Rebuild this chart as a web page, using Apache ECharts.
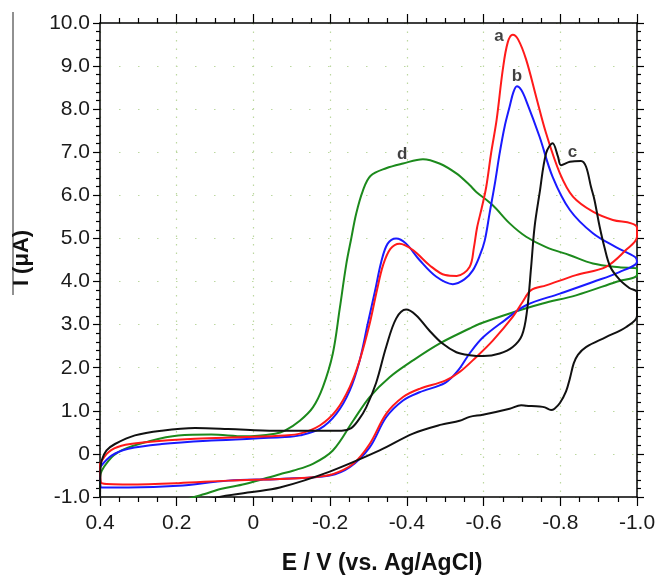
<!DOCTYPE html>
<html>
<head>
<meta charset="utf-8">
<title>CV curves</title>
<script src="https://cdn.jsdelivr.net/npm/echarts@6/dist/echarts.min.js"></script>
<style>
  html, body { margin: 0; padding: 0; background: #fff; }
  #chart { width: 659px; height: 579px; }
</style>
</head>
<body>
<div id="chart"></div>
<script>
// potential (V) / current (uA) pairs, read along each loop
var curveA = [
  [0.40, -0.23], [0.378, 0.04], [0.344, 0.19], [0.282, 0.27], [0.152, 0.35], [0.022, 0.39],
  [-0.082, 0.43], [-0.121, 0.47], [-0.173, 0.66], [-0.216, 1.01], [-0.251, 1.55], [-0.277, 2.17],
  [-0.303, 3.02], [-0.322, 3.80], [-0.338, 4.38], [-0.357, 4.76], [-0.381, 4.88], [-0.416, 4.73],
  [-0.459, 4.38], [-0.500, 4.15], [-0.530, 4.13], [-0.5635, 4.34], [-0.575, 4.8], [-0.583, 5.25],
  [-0.595, 5.7], [-0.607, 6.2], [-0.620, 7.0], [-0.634, 7.75], [-0.650, 8.91], [-0.663, 9.55],
  [-0.676, 9.73], [-0.690, 9.62], [-0.711, 9.15], [-0.737, 8.29], [-0.763, 7.44], [-0.799, 6.51],
  [-0.833, 5.97], [-0.885, 5.62], [-0.937, 5.43], [-0.985, 5.35], [-1.0, 5.25], [-1.0, 5.04],
  [-0.971, 4.73], [-0.919, 4.34], [-0.841, 4.15], [-0.763, 3.91], [-0.724, 3.80], [-0.702, 3.53],
  [-0.676, 3.18], [-0.624, 2.63], [-0.581, 2.25], [-0.5375, 1.90], [-0.500, 1.70], [-0.433, 1.51],
  [-0.390, 1.32], [-0.346, 0.93], [-0.303, 0.23], [-0.260, -0.23], [-0.207, -0.47], [-0.155, -0.54],
  [-0.069, -0.58], [0.066, -0.62], [0.196, -0.68], [0.326, -0.71], [0.396, -0.68], [0.40, -0.23]
];
var curveB = [
  [0.40, -0.31], [0.370, -0.04], [0.326, 0.12], [0.239, 0.23], [0.110, 0.31], [-0.082, 0.39],
  [-0.121, 0.43], [-0.173, 0.58], [-0.216, 0.93], [-0.251, 1.47], [-0.277, 2.17], [-0.298, 3.02],
  [-0.318, 3.82], [-0.333, 4.45], [-0.350, 4.88], [-0.372, 5.00], [-0.398, 4.88], [-0.433, 4.50],
  [-0.477, 4.11], [-0.520, 3.94], [-0.550, 4.05], [-0.572, 4.26], [-0.590, 4.6], [-0.603, 4.95],
  [-0.616, 5.6], [-0.630, 6.3], [-0.642, 6.98], [-0.655, 7.6], [-0.668, 8.06], [-0.678, 8.4],
  [-0.687, 8.53], [-0.698, 8.45], [-0.711, 8.2], [-0.746, 7.36], [-0.780, 6.43], [-0.825, 5.66],
  [-0.885, 5.12], [-0.945, 4.80], [-0.995, 4.57], [-1.0, 4.46], [-0.954, 4.22], [-0.885, 3.99],
  [-0.799, 3.72], [-0.711, 3.45], [-0.655, 3.10], [-0.598, 2.70], [-0.5635, 2.33], [-0.533, 1.93],
  [-0.500, 1.65], [-0.433, 1.43], [-0.390, 1.24], [-0.346, 0.85], [-0.303, 0.15], [-0.251, -0.31],
  [-0.199, -0.50], [-0.069, -0.58], [0.066, -0.62], [0.196, -0.74], [0.326, -0.78], [0.396, -0.78],
  [0.40, -0.31]
];
var curveC = [
  [0.40, -1.5], [0.399, -0.40], [0.396, -0.16], [0.383, 0.08], [0.361, 0.23], [0.309, 0.43],
  [0.239, 0.54], [0.152, 0.60], [0.066, 0.58], [-0.056, 0.54], [-0.230, 0.54], [-0.255, 0.60],
  [-0.275, 0.80], [-0.294, 1.08], [-0.320, 1.65], [-0.346, 2.48], [-0.372, 3.14], [-0.398, 3.35],
  [-0.424, 3.22], [-0.458, 2.87], [-0.493, 2.56], [-0.529, 2.36], [-0.564, 2.29], [-0.600, 2.27],
  [-0.642, 2.33], [-0.676, 2.48], [-0.700, 2.75], [-0.713, 3.30], [-0.724, 4.34], [-0.733, 5.27],
  [-0.746, 6.05], [-0.763, 6.98], [-0.780, 7.21], [-0.794, 6.90], [-0.802, 6.70], [-0.825, 6.78],
  [-0.854, 6.80], [-0.867, 6.67], [-0.880, 6.20], [-0.889, 5.9], [-0.902, 5.3], [-0.915, 4.8],
  [-0.930, 4.35], [-0.954, 4.05], [-0.980, 3.85], [-1.0, 3.75], [-1.0, 3.20], [-0.971, 2.94],
  [-0.919, 2.71], [-0.867, 2.48], [-0.846, 2.30], [-0.835, 2.10], [-0.825, 1.75], [-0.815, 1.45],
  [-0.799, 1.18], [-0.785, 1.05], [-0.776, 1.02], [-0.760, 1.08], [-0.746, 1.10], [-0.711, 1.12],
  [-0.698, 1.13], [-0.668, 1.05], [-0.598, 0.91], [-0.5635, 0.86], [-0.5375, 0.77], [-0.490, 0.68],
  [-0.416, 0.47], [-0.329, 0.08], [-0.199, -0.41], [-0.069, -0.78], [0.009, -0.89], [0.096, -1.01],
  [0.200, -1.2], [0.40, -1.5]
];
var curveD = [
  [0.40, -1.5], [0.40, -0.54], [0.378, -0.16], [0.344, 0.08], [0.282, 0.27], [0.196, 0.43],
  [0.110, 0.45], [0.023, 0.41], [-0.056, 0.47], [-0.082, 0.54], [-0.121, 0.77], [-0.155, 1.08],
  [-0.181, 1.55], [-0.207, 2.33], [-0.225, 3.37], [-0.242, 4.4], [-0.255, 5.00], [-0.268, 5.58],
  [-0.285, 6.10], [-0.305, 6.45], [-0.346, 6.63], [-0.390, 6.74], [-0.442, 6.84], [-0.485, 6.74],
  [-0.529, 6.51], [-0.5635, 6.24], [-0.581, 6.08], [-0.624, 5.77], [-0.668, 5.35], [-0.711, 5.04],
  [-0.763, 4.80], [-0.825, 4.61], [-0.885, 4.42], [-0.954, 4.33], [-1.0, 4.30], [-1.0, 4.15],
  [-0.945, 3.99], [-0.841, 3.68], [-0.754, 3.49], [-0.668, 3.26], [-0.590, 3.02], [-0.5635, 2.91],
  [-0.485, 2.56], [-0.416, 2.17], [-0.355, 1.78], [-0.303, 1.32], [-0.260, 0.77], [-0.207, 0.08],
  [-0.155, -0.23], [-0.103, -0.39], [-0.069, -0.47], [0.022, -0.70], [0.083, -0.81], [0.127, -0.93],
  [0.161, -1.02], [0.250, -1.3], [0.40, -1.5]
];

var tagNames = ['a', 'b', 'c', 'd'];
var tagE = [-0.640, -0.687, -0.832, -0.388];
var tagI = [9.69, 8.77, 7.01, 6.96];

var xMin = -1.0, xMax = 0.4, xStep = 0.2;
var yMin = -1.0, yMax = 10.0, yStep = 1.0;

var chart = echarts.init(document.getElementById('chart'), null, { renderer: 'canvas' });

var font = "'Liberation Sans', Arial, sans-serif";

function fmt(v) {
  if (Math.abs(v) < 1e-9) return '0';
  return v.toFixed(1);
}

var tickStyle = { color: '#000', width: 1.2 };

function line(name, data, color) {
  return {
    name: name,
    type: 'line',
    data: data,
    smooth: 0.35,
    showSymbol: false,
    clip: true,
    lineStyle: { color: color, width: 2 },
    itemStyle: { color: color }
  };
}

var tags = tagNames.map(function (n, i) {
  return { name: n, value: [tagE[i], tagI[i]] };
});

chart.setOption({
  animation: false,
  backgroundColor: '#fff',
  grid: { left: 100, right: 22, top: 23, bottom: 82 },
  xAxis: [
    {
      type: 'value', inverse: true, min: xMin, max: xMax, interval: xStep,
      axisLine: { show: true, onZero: false, lineStyle: { color: '#000', width: 1.5 } },
      axisTick: { show: true, length: 9, lineStyle: tickStyle },
      minorTick: { show: true, splitNumber: 4, length: 5, lineStyle: tickStyle },
      axisLabel: { margin: 16, fontSize: 21, color: '#1a1a1a', fontFamily: font, formatter: fmt },
      splitLine: { show: true, lineStyle: { color: '#bcd8a0', width: 1.2, type: [1.5, 7] } }
    },
    {
      type: 'value', position: 'top', inverse: true, min: xMin, max: xMax, interval: xStep,
      axisLine: { show: true, onZero: false, lineStyle: { color: '#000', width: 1.5 } },
      axisTick: { show: true, length: 9, lineStyle: tickStyle },
      minorTick: { show: true, splitNumber: 4, length: 5, lineStyle: tickStyle },
      axisLabel: { show: false },
      splitLine: { show: false }
    }
  ],
  yAxis: [
    {
      type: 'value', min: yMin, max: yMax, interval: yStep,
      axisLine: { show: true, onZero: false, lineStyle: { color: '#000', width: 1.5 } },
      axisTick: { show: true, length: 7, lineStyle: tickStyle },
      minorTick: { show: true, splitNumber: 5, length: 4, lineStyle: tickStyle },
      axisLabel: { margin: 10, fontSize: 21, color: '#1a1a1a', fontFamily: font, formatter: fmt },
      splitLine: { show: true, lineStyle: { color: '#bcd8a0', width: 1.2, type: [1.5, 17.5] } }
    },
    {
      type: 'value', position: 'right', min: yMin, max: yMax, interval: yStep,
      axisLine: { show: true, onZero: false, lineStyle: { color: '#000', width: 1.5 } },
      axisTick: { show: true, length: 7, lineStyle: tickStyle },
      minorTick: { show: true, splitNumber: 5, length: 4, lineStyle: tickStyle },
      axisLabel: { show: false },
      splitLine: { show: false }
    }
  ],
  series: [
    line('d', curveD, '#1c8a1c'),
    line('b', curveB, '#1a1aff'),
    line('a', curveA, '#ff1a1a'),
    line('c', curveC, '#111111'),
    {
      type: 'scatter',
      data: tags,
      symbolSize: 1,
      itemStyle: { color: 'rgba(0,0,0,0)' },
      label: {
        show: true, position: 'inside', formatter: '{b}',
        fontSize: 17, fontWeight: 'bold', color: '#111', fontFamily: font
      }
    }
  ],
  graphic: [
    {
      type: 'text', x: 382, y: 564,
      style: {
        text: 'E / V (vs. Ag/AgCl)', fill: '#111',
        font: "bold 23px 'Liberation Sans', Arial, sans-serif",
        textAlign: 'center', textVerticalAlign: 'middle'
      }
    },
    {
      type: 'text', x: 22, y: 258, rotation: Math.PI / 2,
      style: {
        text: 'I (\u03bcA)', fill: '#111',
        font: "bold 22px 'Liberation Sans', Arial, sans-serif",
        textAlign: 'center', textVerticalAlign: 'middle'
      }
    },
    {
      type: 'line', shape: { x1: 13, y1: 12, x2: 13, y2: 295 },
      style: { stroke: '#222', lineWidth: 1 }
    }
  ]
});
</script>
</body>
</html>
